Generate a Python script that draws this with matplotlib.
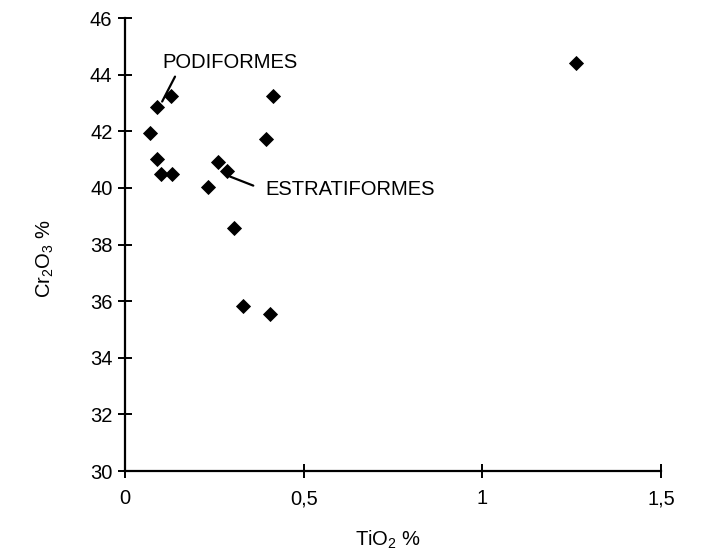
import matplotlib
matplotlib.use("Agg")
import matplotlib.pyplot as plt

plt.rcParams['font.family'] = ['Liberation Sans', 'DejaVu Sans']
plt.rcParams['mathtext.fontset'] = 'custom'
plt.rcParams['mathtext.rm'] = 'Liberation Sans'

# TiO2 % vs Cr2O3 %
tio2 = [0.089, 0.070, 0.089, 0.100, 0.132, 0.128, 0.259, 0.285, 0.233,
        0.395, 0.413, 0.305, 0.329, 0.406, 1.262]
cr2o3 = [42.85, 41.93, 41.01, 40.49, 40.49, 43.23, 40.91, 40.58, 40.02,
         41.72, 43.23, 38.58, 35.84, 35.54, 44.41]

xticks = [0, 0.5, 1, 1.5]
xticklabels = ['0', '0,5', '1', '1,5']
yticks = [30, 32, 34, 36, 38, 40, 42, 44, 46]

fs = 14.5

fig = plt.figure(figsize=(7.03, 5.54), dpi=100)
ax = fig.add_axes([0.1778, 0.1498, 0.7625, 0.8177])

ax.plot(tio2, cr2o3, linestyle='none', marker='D', color='black',
        markersize=6.8, markeredgewidth=0.6)

ax.set_xlim(0, 1.5)
ax.set_ylim(30, 46)
ax.set_xticks(xticks)
ax.set_xticklabels(xticklabels)
ax.set_yticks(yticks)

for side in ['top', 'right']:
    ax.spines[side].set_visible(False)
for side in ['left', 'bottom']:
    ax.spines[side].set_linewidth(1.6)

ax.tick_params(direction='inout', length=10, width=1.4, labelsize=fs)
ax.tick_params(axis='x', pad=8)
ax.tick_params(axis='y', pad=4)

ax.set_xlabel(r'TiO$_2$ %', fontsize=fs)
ax.xaxis.set_label_coords(0.49, -0.127)
ax.set_ylabel(r'Cr$_2$O$_3$ %', fontsize=fs)
ax.yaxis.set_label_coords(-0.129, 0.47)

# labels with leader lines
ax.text(0.106, 44.42, 'PODIFORMES', fontsize=fs, ha='left', va='center')
ax.annotate('', xy=(0.104, 43.05), xytext=(0.140, 43.93),
            arrowprops=dict(arrowstyle='-', color='black', lw=1.6,
                            shrinkA=0, shrinkB=0))
ax.text(0.392, 39.93, 'ESTRATIFORMES', fontsize=fs, ha='left', va='center')
ax.annotate('', xy=(0.294, 40.40), xytext=(0.359, 40.08),
            arrowprops=dict(arrowstyle='-', color='black', lw=1.6,
                            shrinkA=0, shrinkB=0))

fig.savefig('out.png', dpi=100)
